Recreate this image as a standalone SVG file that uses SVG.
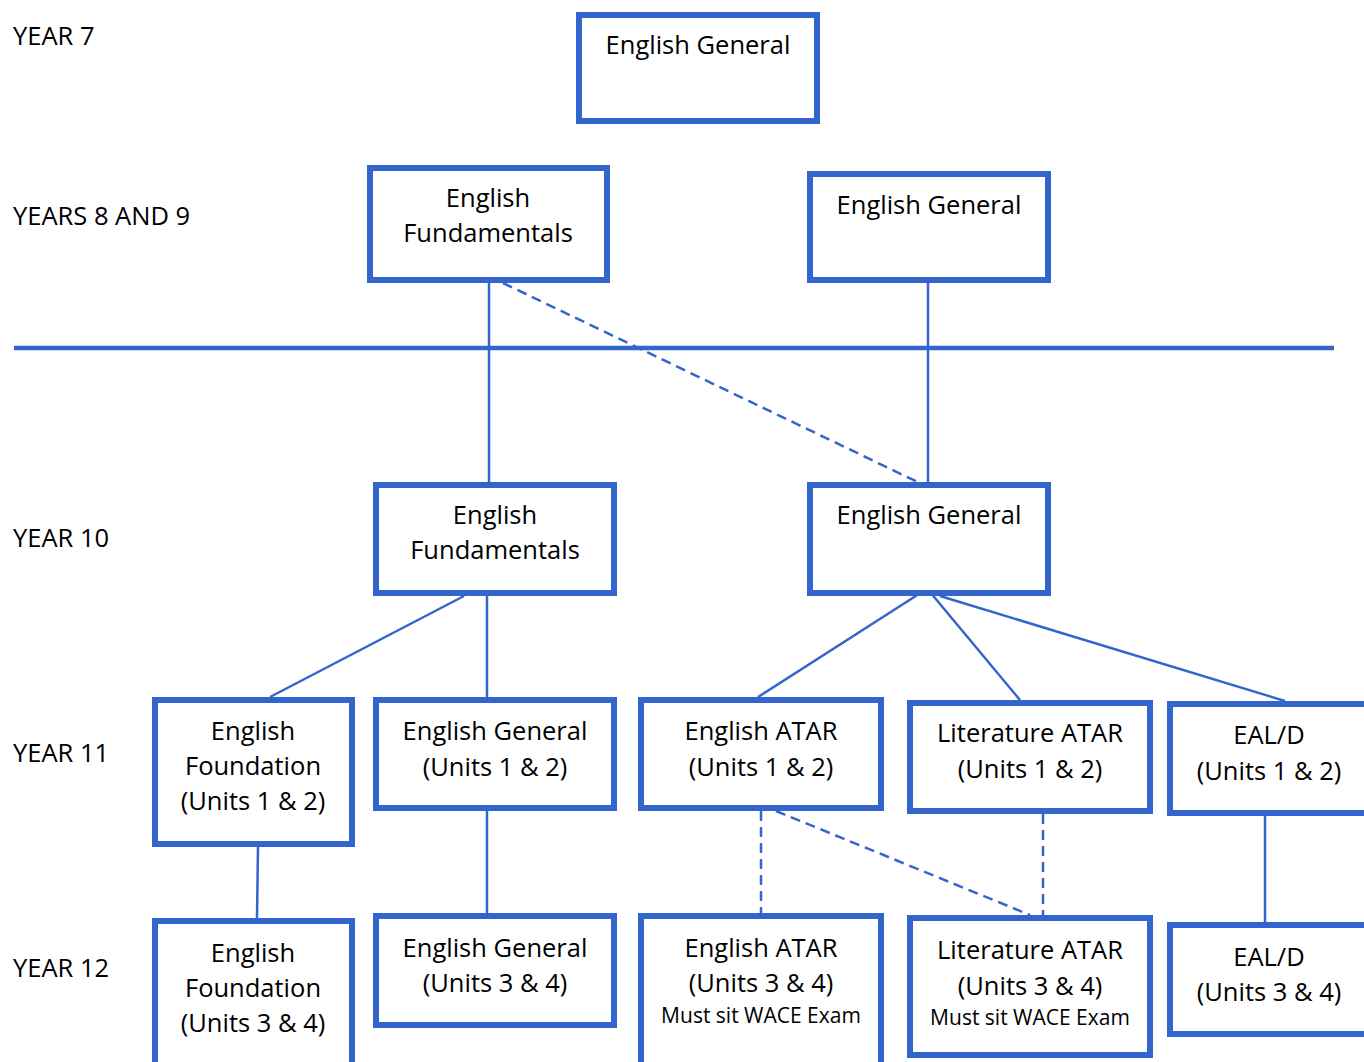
<svg xmlns="http://www.w3.org/2000/svg" width="1364" height="1062" viewBox="0 0 1364 1062">
<style>
.box{fill:#fff;stroke:#3366CC;stroke-width:6}
.ln{stroke:#3366CC;stroke-width:2.5;fill:none}
.ds{stroke:#3366CC;stroke-width:2.5;fill:none;stroke-dasharray:10 6}
.t{font-family:"Open Sans","Noto Sans",sans-serif;font-size:25.5px;fill:#000;text-anchor:middle}
.s{font-family:"Open Sans","Noto Sans",sans-serif;font-size:21px;fill:#000;text-anchor:middle}
.lab{font-family:"Open Sans","Noto Sans",sans-serif;font-size:25.5px;fill:#000}
</style>
<rect width="1364" height="1062" fill="#fff"/>
<g id="labels">
<text class="lab" x="13" y="45">YEAR 7</text>
<text class="lab" x="13" y="225">YEARS 8 AND 9</text>
<text class="lab" x="13" y="547">YEAR 10</text>
<text class="lab" x="13" y="762">YEAR 11</text>
<text class="lab" x="13" y="977">YEAR 12</text>
</g>
<g id="connectors">
<line class="ln" x1="14" y1="348" x2="1334" y2="348" style="stroke-width:4.5"/>
<line class="ln" x1="489" y1="277" x2="489" y2="482"/>
<line class="ds" x1="503" y1="283" x2="928" y2="487"/>
<line class="ln" x1="928" y1="283" x2="928" y2="482"/>
<line class="ln" x1="464" y1="596" x2="270" y2="697"/>
<line class="ln" x1="487" y1="596" x2="487" y2="697"/>
<line class="ln" x1="922" y1="592" x2="758" y2="697"/>
<line class="ln" x1="930" y1="592" x2="1020" y2="700"/>
<line class="ln" x1="940" y1="596" x2="1285" y2="701"/>
<line class="ln" x1="258" y1="847" x2="257" y2="918"/>
<line class="ln" x1="487" y1="811" x2="487" y2="913"/>
<line class="ds" x1="761" y1="811" x2="761" y2="913"/>
<line class="ds" x1="776" y1="811" x2="1030" y2="915"/>
<line class="ds" x1="1043" y1="814" x2="1043" y2="915"/>
<line class="ln" x1="1265" y1="816" x2="1265" y2="922"/>
</g>
<g id="y7-general"><rect class="box" x="579" y="15" width="238" height="106"/><text class="t" x="698" y="54">English General</text></g>
<g id="y89-fund"><rect class="box" x="370" y="168" width="237" height="112"/><text class="t" x="488" y="207">English</text><text class="t" x="488" y="242">Fundamentals</text></g>
<g id="y89-general"><rect class="box" x="810" y="174" width="238" height="106"/><text class="t" x="929" y="214">English General</text></g>
<g id="y10-fund"><rect class="box" x="376" y="485" width="238" height="108"/><text class="t" x="495" y="524">English</text><text class="t" x="495" y="559">Fundamentals</text></g>
<g id="y10-general"><rect class="box" x="810" y="485" width="238" height="108"/><text class="t" x="929" y="524">English General</text></g>
<g id="y11-foundation"><rect class="box" x="155" y="700" width="197" height="144"/><text class="t" x="253" y="740">English</text><text class="t" x="253" y="775">Foundation</text><text class="t" x="253" y="810">(Units 1 &amp; 2)</text></g>
<g id="y11-general"><rect class="box" x="376" y="700" width="238" height="108"/><text class="t" x="495" y="740">English General</text><text class="t" x="495" y="776">(Units 1 &amp; 2)</text></g>
<g id="y11-eng-atar"><rect class="box" x="641" y="700" width="240" height="108"/><text class="t" x="761" y="740">English ATAR</text><text class="t" x="761" y="776">(Units 1 &amp; 2)</text></g>
<g id="y11-lit-atar"><rect class="box" x="910" y="703" width="240" height="108"/><text class="t" x="1030" y="742">Literature ATAR</text><text class="t" x="1030" y="778">(Units 1 &amp; 2)</text></g>
<g id="y11-eald"><rect class="box" x="1170" y="704" width="200" height="109"/><text class="t" x="1269" y="744">EAL/D</text><text class="t" x="1269" y="780">(Units 1 &amp; 2)</text></g>
<g id="y12-foundation"><rect class="box" x="155" y="921" width="197" height="150"/><text class="t" x="253" y="962">English</text><text class="t" x="253" y="997">Foundation</text><text class="t" x="253" y="1032">(Units 3 &amp; 4)</text></g>
<g id="y12-general"><rect class="box" x="376" y="916" width="238" height="109"/><text class="t" x="495" y="957">English General</text><text class="t" x="495" y="992">(Units 3 &amp; 4)</text></g>
<g id="y12-eng-atar"><rect class="box" x="641" y="916" width="240" height="150"/><text class="t" x="761" y="957">English ATAR</text><text class="t" x="761" y="992">(Units 3 &amp; 4)</text><text class="s" x="761" y="1023">Must sit WACE Exam</text></g>
<g id="y12-lit-atar"><rect class="box" x="910" y="918" width="240" height="137"/><text class="t" x="1030" y="959">Literature ATAR</text><text class="t" x="1030" y="995">(Units 3 &amp; 4)</text><text class="s" x="1030" y="1025">Must sit WACE Exam</text></g>
<g id="y12-eald"><rect class="box" x="1170" y="925" width="200" height="109"/><text class="t" x="1269" y="966">EAL/D</text><text class="t" x="1269" y="1001">(Units 3 &amp; 4)</text></g>
</svg>
